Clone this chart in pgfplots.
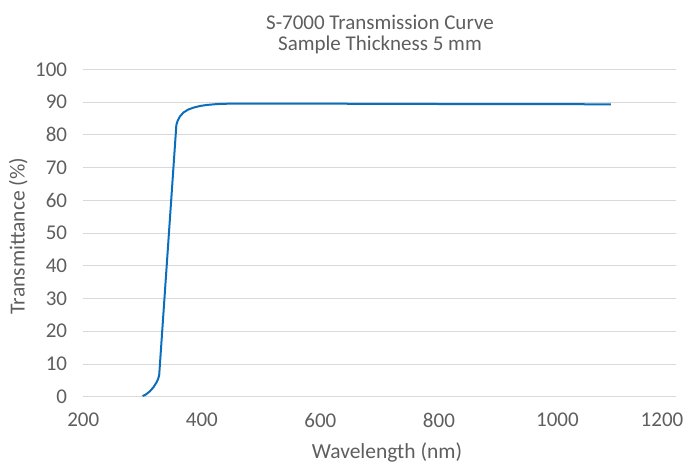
\documentclass[border=0pt]{standalone}
\usepackage{fontspec}
\setmainfont{Carlito}
\usepackage{pgfplots}
\pgfplotsset{compat=1.18}
\definecolor{txt}{HTML}{5E5E5E}
\definecolor{gridc}{HTML}{D9D9D9}
\definecolor{curve}{HTML}{0A6EBD}
\pgfplotstableread{
x y
300 0.2
305 0.6
312 1.6
318 2.8
323 4.2
326 5.3
328 6.5
357 83.0
359 84.2
363 85.6
369 86.8
377 87.7
386 88.3
397 88.8
408 89.1
420 89.3
432 89.45
450 89.5
500 89.5
600 89.5
700 89.45
800 89.4
900 89.4
1000 89.35
1090 89.3
}\datatable
\begin{document}
\begin{tikzpicture}[x=1pt,y=1pt]
\path[use as bounding box] (0,0) rectangle (684,466);
\begin{axis}[
  at={(83.3pt,69.3pt)}, anchor=south west,
  scale only axis, width=592.7pt, height=327.4pt,
  xmin=200, xmax=1200, ymin=0, ymax=100,
  xtick={200,400,...,1000},
  extra x ticks={1200},
  extra x tick style={grid=none, xticklabel style={xshift=-14pt}},
  ytick={0,10,...,100},
  axis line style={draw=none},
  tick style={draw=none},
  ymajorgrids,
  grid style={gridc, line width=0.9pt},
  ticklabel style={font=\fontsize{21}{24}\selectfont, text=txt},
  /pgf/number format/assume math mode=true,
  /pgf/number format/1000 sep={},
  xticklabel style={anchor=north, inner sep=0pt, yshift=-16pt},
  yticklabel style={anchor=east, inner sep=0pt, xshift=-16pt},
  clip=false,
]
\addplot[curve, line width=2pt, line join=round] table[x=x,y=y] {\datatable};
\end{axis}
\node[anchor=base, text=txt, font=\fontsize{21.5}{24}\selectfont] at (387,8) {Wavelength (nm)};
\node[anchor=base, rotate=90, text=txt, font=\fontsize{21.5}{24}\selectfont] at (24.5,230) {Transmittance (\%)};
\node[anchor=base, text=txt, font=\fontsize{21}{24}\selectfont] at (380,436.7) {S-7000 Transmission Curve};
\node[anchor=base, text=txt, font=\fontsize{21}{24}\selectfont] at (380,415) {Sample Thickness 5 mm};
\end{tikzpicture}
\end{document}
